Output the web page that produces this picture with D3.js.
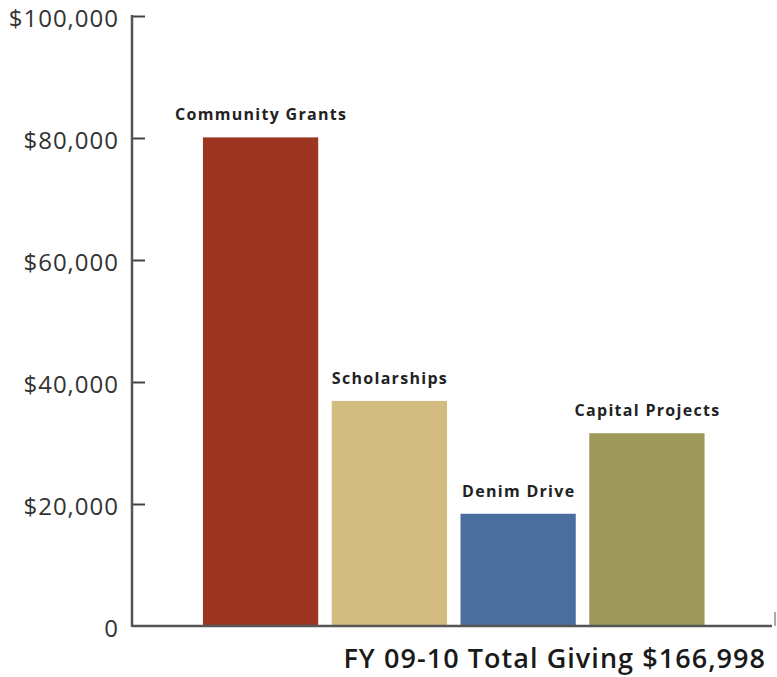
<!DOCTYPE html>
<html><head><meta charset="utf-8">
<script src="https://cdn.jsdelivr.net/npm/d3@7"></script>
<style>body{margin:0;background:#fff}svg{display:block}</style>
</head><body>
<svg id="c" width="777" height="677"></svg>
<script>
const categories = ["Community Grants", "Scholarships", "Denim Drive", "Capital Projects"];
const values = [80100, 36900, 18400, 31598];
const colors = ["#9c3522", "#d3bc80", "#4a6e9e", "#9e985a"];
const tickValues = [0, 20000, 40000, 60000, 80000, 100000];
const tickLabels = ["0", "$20,000", "$40,000", "$60,000", "$80,000", "$100,000"];
const title = "FY 09-10 Total Giving $166,998";

const svg = d3.select("#c");
const x0 = 132, baseY = 626, topY = 16;
const y = d3.scaleLinear().domain([0, 100000]).range([baseY, topY]);
const x = d3.scaleBand().domain(categories).range([196.5, 711]).paddingInner(0.105).paddingOuter(0.05);

// bars
svg.selectAll("rect.bar").data(categories).join("rect")
  .attr("class","bar")
  .attr("x", d => x(d)).attr("width", x.bandwidth())
  .attr("y", (d,i) => y(values[i])).attr("height", (d,i) => baseY - y(values[i]))
  .attr("fill", (d,i) => colors[i]);

// bar labels
svg.selectAll("text.lbl").data(categories).join("text")
  .attr("class","lbl")
  .attr("x", d => x(d) + x.bandwidth()/2 + 0.6)
  .attr("y", (d,i) => y(values[i]) - 17)
  .attr("text-anchor","middle")
  .attr("font-family","'Open Sans', sans-serif")
  .attr("font-weight", 700)
  .attr("font-size", 16)
  .attr("letter-spacing", 1.3)
  .attr("fill","#222")
  .text(d => d);

// y axis
const axis = d3.axisRight(y).tickValues(tickValues).tickSize(13).tickFormat("");
const g = svg.append("g").attr("transform", `translate(${x0},0)`).call(axis);
g.select(".domain").remove();
g.selectAll(".tick line").attr("stroke","#444").attr("stroke-width",2)
  .filter(d => d === 0).remove();
svg.append("line").attr("x1", x0).attr("x2", x0).attr("y1", y(100000)-1).attr("y2", baseY+1)
  .attr("stroke","#555").attr("stroke-width",2.5);
svg.append("line").attr("x1", x0).attr("x2", 772).attr("y1", baseY).attr("y2", baseY)
  .attr("stroke","#555").attr("stroke-width",2.5);
svg.append("line").attr("x1", 775).attr("x2", 775).attr("y1", 612).attr("y2", baseY)
  .attr("stroke","#aaa").attr("stroke-width",2);

// tick labels
svg.selectAll("text.tl").data(tickValues).join("text")
  .attr("class","tl")
  .attr("x", 119).attr("y", d => y(d) + 11)
  .attr("text-anchor","end")
  .attr("font-family","'Open Sans', sans-serif")
  .attr("font-size", 24)
  .attr("letter-spacing", 1)
  .attr("fill","#333")
  .text((d,i) => tickLabels[i]);

// title
svg.append("text").attr("x", 766).attr("y", 668).attr("text-anchor","end")
  .attr("font-family","'Open Sans', sans-serif").attr("font-weight",600)
  .attr("font-size", 27).attr("letter-spacing", 1.05).attr("fill","#1a1a1a").text(title);
</script>
</body></html>
